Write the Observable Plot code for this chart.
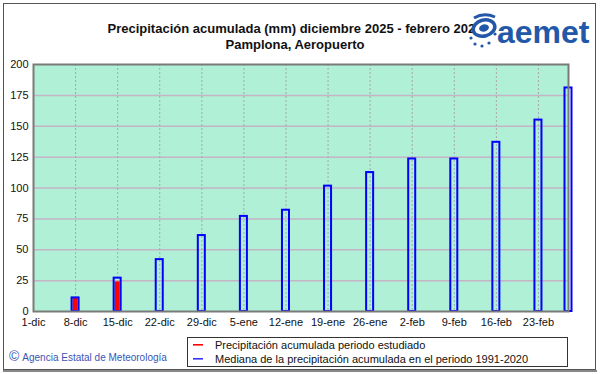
<!DOCTYPE html>
<html><head><meta charset="utf-8">
<script src="https://cdn.jsdelivr.net/npm/d3@7"></script>
<script src="https://cdn.jsdelivr.net/npm/@observablehq/plot@0.6"></script>
<style>body{margin:0;background:#fff} svg{display:block}</style>
</head><body><div id="chart"></div>
<script>
// ---- data ----
const weekDates = ["2025-12-01","2025-12-08","2025-12-15","2025-12-22","2025-12-29","2026-01-05","2026-01-12","2026-01-19","2026-01-26","2026-02-02","2026-02-09","2026-02-16","2026-02-23"];
const weekLabels = ["1-dic","8-dic","15-dic","22-dic","29-dic","5-ene","12-ene","19-ene","26-ene","2-feb","9-feb","16-feb","23-feb"];
const domainEnd = "2026-02-28";
const medianDates = ["2025-12-08","2025-12-15","2025-12-22","2025-12-29","2026-01-05","2026-01-12","2026-01-19","2026-01-26","2026-02-02","2026-02-09","2026-02-16","2026-02-23","2026-02-28"];
const medianValues = [11, 27, 42, 61.5, 77, 82, 101.5, 112.5, 123.5, 123.5, 137, 155, 181];
const observedDates = ["2025-12-08","2025-12-15"];
const observedValues = [10.5, 24];
const yTicks = [0, 25, 50, 75, 100, 125, 150, 175, 200];
const titleLine1 = "Precipitación acumulada (mm) diciembre 2025 - febrero 2026";
const titleLine2 = "Pamplona, Aeropuerto";
const legendLabels = ["Precipitación acumulada periodo estudiado", "Mediana de la precipitación acumulada en el periodo 1991-2020"];
const legendColors = ["#ff0000", "#3333ff"];
const creditText = "Agencia Estatal de Meteorología";

// ---- build ----
const parse = s => new Date(s + "T00:00:00Z");
const median = medianDates.map((d, i) => ({date: parse(d), value: medianValues[i]}));
const observed = observedDates.map((d, i) => ({date: parse(d), value: observedValues[i]}));
const labelMap = new Map(weekDates.map((d, i) => [+parse(d), weekLabels[i]]));
const H = 3600e3;
const FONT = "'Liberation Sans', Arial, sans-serif";

const svg = Plot.plot({
  width: 601, height: 374,
  marginTop: 64, marginBottom: 63, marginLeft: 33, marginRight: 33,
  style: {fontFamily: FONT, fontSize: "11px", color: "#111", background: "#fff", overflow: "visible"},
  x: {type: "utc", domain: [parse(weekDates[0]), parse(domainEnd)], ticks: weekDates.map(parse),
      tickFormat: d => labelMap.get(+d), tickSize: 0, tickPadding: 7, label: null},
  y: {domain: [0, 200], ticks: yTicks, tickSize: 0, tickPadding: 5, label: null},
  marks: [
    Plot.frame({fill: "#aff0d7"}),
    Plot.ruleY(yTicks.slice(1, -1), {stroke: "#c6b3c6", strokeWidth: 1.5}),
    Plot.ruleX(weekDates.slice(1).map(parse), {stroke: "#a8a8a8", strokeDasharray: "2,2"}),
    Plot.rect(observed, {x1: d => new Date(+d.date - 10 * H), x2: d => new Date(+d.date + 10 * H), y1: 0, y2: "value", fill: "#ff0000"}),
    Plot.rect(median, {x1: d => new Date(+d.date - 14 * H), x2: d => new Date(+d.date + 14 * H), y1: 0, y2: "value", fill: "none", stroke: "#0000ff", strokeWidth: 2}),
    Plot.frame({stroke: "#7a7a7a", strokeWidth: 2})
  ]
});

const s = d3.select(svg);
// outer border
s.append("rect").attr("x", 3.5).attr("y", 3.5).attr("width", 592).attr("height", 366)
  .attr("fill", "none").attr("stroke", "#555").attr("stroke-width", 1);
s.append("line").attr("x1", 3).attr("x2", 597).attr("y1", 371).attr("y2", 371).attr("stroke", "#888").attr("stroke-width", 2);

// titles
const t = s.append("g").attr("font-family", FONT).attr("font-weight", "bold").attr("font-size", 13)
  .attr("text-anchor", "middle").attr("fill", "#111");
t.append("text").attr("x", 295).attr("y", 33).text(titleLine1);
t.append("text").attr("x", 295).attr("y", 49).text(titleLine2);

// logo (drawn over the end of the title, as in the original)
const logo = s.append("g").attr("text-anchor", "start");
const blue = "#2358a8";
logo.append("ellipse").attr("cx", 484).attr("cy", 28).attr("rx", 11).attr("ry", 8)
  .attr("transform", "rotate(-15 484 28)").attr("fill", "#fff").attr("stroke", blue).attr("stroke-width", 3.5);
logo.append("ellipse").attr("cx", 484).attr("cy", 28).attr("rx", 5).attr("ry", 3.5)
  .attr("transform", "rotate(-15 484 28)").attr("fill", blue);
logo.append("path").attr("d", "M474 18 Q484 12 495 17").attr("fill", "none").attr("stroke", blue).attr("stroke-width", 3);
[[471, 38], [475, 44], [482, 46], [489, 43], [495, 34]].forEach(([x, y]) =>
  logo.append("circle").attr("cx", x).attr("cy", y).attr("r", 1.6).attr("fill", blue));
logo.append("text").attr("x", 497).attr("y", 43).attr("font-family", FONT).attr("font-weight", "bold")
  .attr("font-size", 32).attr("fill", blue).text("aemet");

// legend
const lg = s.append("g").attr("font-family", FONT).attr("font-size", 11).attr("fill", "#111").attr("text-anchor", "start");
lg.append("rect").attr("x", 187.5).attr("y", 337.5).attr("width", 380).attr("height", 29)
  .attr("fill", "#fff").attr("stroke", "#333");
legendLabels.forEach((lab, i) => {
  const y = 345 + i * 14;
  lg.append("rect").attr("x", 193).attr("y", y - 1).attr("width", 10).attr("height", 1.6)
    .style("fill", legendColors[i]).style("stroke", "none");
  lg.append("text").attr("x", 215).attr("y", y + 4).text(lab);
});

// credit
const cr = s.append("text").attr("x", 9).attr("y", 361).attr("font-family", FONT).attr("fill", "#3a55b5").attr("text-anchor", "start");
cr.append("tspan").attr("font-size", 14).text("©");
cr.append("tspan").attr("font-size", 10).attr("dx", 3).text(creditText);

document.getElementById("chart").appendChild(svg);
</script>
</body></html>
